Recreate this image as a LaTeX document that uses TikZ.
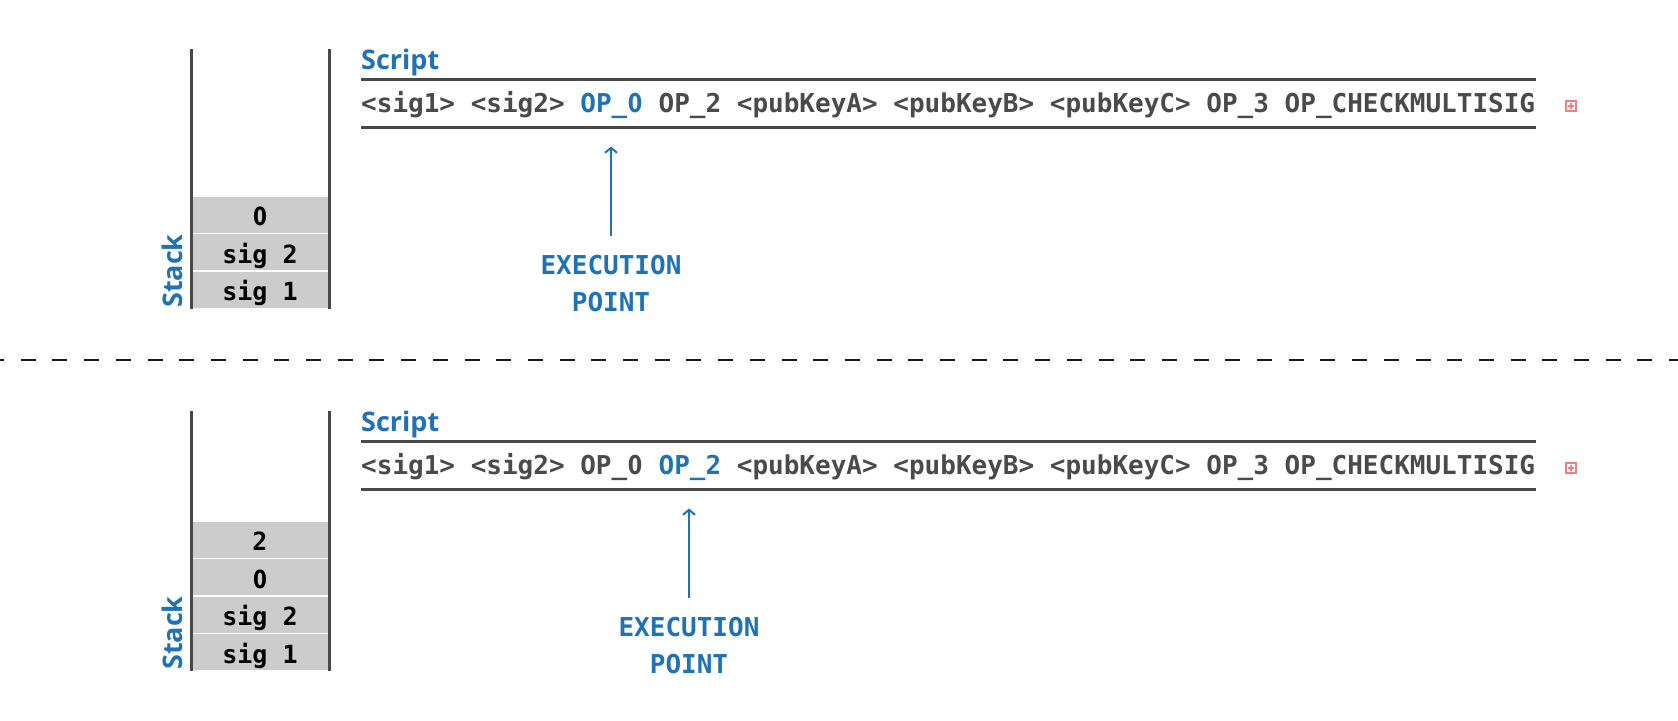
\documentclass[tikz,border=0pt]{standalone}
\usepackage{fontspec}
\setmonofont{DejaVu Sans Mono}
\newfontfamily\labfont{Open Sans}
\newfontfamily\zerofont{DejaVu Sans}[FakeStretch=0.8]
\newcommand{\zr}{\makebox[0.602em][c]{\zerofont 0}}
\usetikzlibrary{arrows.meta}
\definecolor{hl}{HTML}{1F72B5}
\definecolor{txt}{HTML}{4A4A4A}
\definecolor{cellgray}{HTML}{CCCCCC}
\definecolor{rulec}{HTML}{484848}
\definecolor{iconc}{HTML}{F08080}
\begin{document}
\begin{tikzpicture}[x=1pt,y=-1pt,
  scripttext/.style={anchor=base west, inner sep=0pt, font=\ttfamily\bfseries\fontsize{26}{31}\selectfont, text=txt},
  scriptlab/.style={anchor=base west, inner sep=0pt, font=\labfont\bfseries\fontsize{27}{32}\selectfont, text=hl},
  stacklab/.style={anchor=base west, inner sep=0pt, rotate=90, font=\labfont\bfseries\fontsize{27}{32}\selectfont, text=hl},
  execlab/.style={anchor=north, inner sep=0pt, align=center, font=\ttfamily\bfseries\fontsize{26}{37}\selectfont, text=hl},
  cell/.style={fill=cellgray, draw=white, line width=1.5pt, minimum width=138pt, inner xsep=0pt, inner ysep=0pt, text height=29.5pt, text depth=8pt, font=\ttfamily\bfseries\fontsize{25}{30}\selectfont, text=black},
  stackline/.style={draw=rulec, line width=3pt},
  scriptrule/.style={draw=rulec, line width=3pt},
  arr/.style={draw=hl, line width=2pt, -{Straight Barb[length=5pt,width=12pt,line width=2pt]}},
  iconbox/.style={draw=iconc, line width=1.2pt, minimum size=10pt, inner sep=0pt},
]
\useasboundingbox (0,0) rectangle (1678,720);

% ---------- top panel ----------
\node[cell] (t0) at (260,214.75) {\zr};
\node[cell] (ts2) at (260,252.25) {sig 2};
\node[cell] (ts1) at (260,289.75) {sig 1};
\draw[stackline] (191,49) -- (191,309);
\draw[stackline] (329,49) -- (329,309);
\node[stacklab] (stk1) at (182,308) {Stack};
\node[scriptlab] (scr1) at (361,69) {Script};
\draw[scriptrule] (361,79) -- (1536,79);
\draw[scriptrule] (361,127) -- (1536,127);
\node[scripttext] (code1) at (361,112) {<sig1> <sig2> \textcolor{hl}{OP\_\zr} OP\_2 <pubKeyA> <pubKeyB> <pubKeyC> OP\_3 OP\_CHECKMULTISIG};
\node[iconbox] (ic1) at (1571,106) {};
\draw[iconc, line width=1.2pt] (ic1.center) ++(-3,0) -- ++(6,0) (ic1.center) ++(0,-3) -- ++(0,6);
\node[execlab] (ex1) at (611,254.5) {EXECUTION\\POINT};
\coordinate (a1s) at (611,235.5);
\coordinate (a1e) at (611,146.5);
\draw[arr] (a1s) -- (a1e);

% ---------- divider ----------
\coordinate (dl) at (0,360);
\coordinate (dr) at (1678,360);
\draw[line width=2pt, black!90, dash pattern=on 15pt off 16.7pt, dash phase=11pt] (dl) -- (dr);

% ---------- bottom panel ----------
\node[cell] (b2) at (260,539.75) {2};
\node[cell] (b0) at (260,577.25) {\zr};
\node[cell] (bs2) at (260,614.75) {sig 2};
\node[cell] (bs1) at (260,652.25) {sig 1};
\draw[stackline] (191,411) -- (191,671);
\draw[stackline] (329,411) -- (329,671);
\node[stacklab] (stk2) at (182,670) {Stack};
\node[scriptlab] (scr2) at (361,431) {Script};
\draw[scriptrule] (361,441) -- (1536,441);
\draw[scriptrule] (361,489) -- (1536,489);
\node[scripttext] (code2) at (361,474) {<sig1> <sig2> OP\_\zr{} \textcolor{hl}{OP\_2} <pubKeyA> <pubKeyB> <pubKeyC> OP\_3 OP\_CHECKMULTISIG};
\node[iconbox] (ic2) at (1571,468) {};
\draw[iconc, line width=1.2pt] (ic2.center) ++(-3,0) -- ++(6,0) (ic2.center) ++(0,-3) -- ++(0,6);
\node[execlab] (ex2) at (689,616.5) {EXECUTION\\POINT};
\coordinate (a2s) at (689,597.5);
\coordinate (a2e) at (689,508.5);
\draw[arr] (a2s) -- (a2e);
\end{tikzpicture}
\end{document}
